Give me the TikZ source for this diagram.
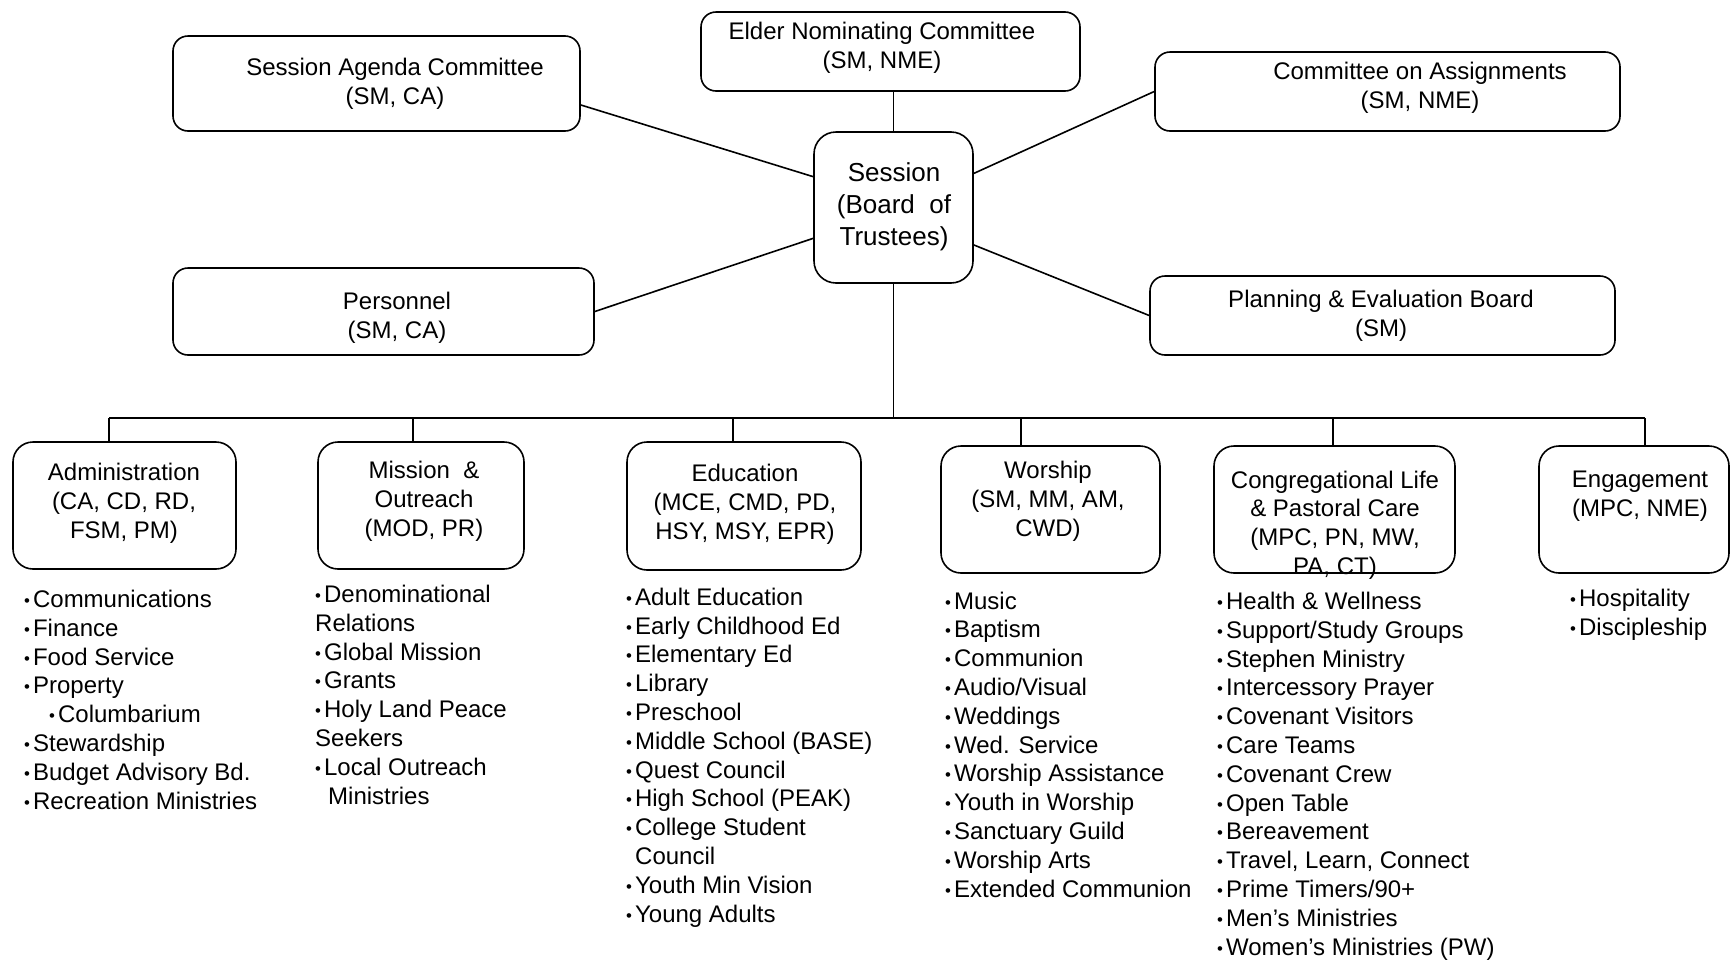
\documentclass[tikz,border=0pt]{standalone}
\usepackage{fontspec}
\setmainfont{Liberation Sans}
\usepackage{graphicx}

\newcommand{\bul}{\raisebox{1pt}{\scalebox{0.7}{•}}\kern3pt}

\begin{document}
\begin{tikzpicture}[x=1pt, y=-1pt,
topbox/.style={draw, rectangle, rounded corners=15pt, line width=1.6pt},
lowbox/.style={draw, rectangle, rounded corners=20pt, line width=1.6pt},
boxtext/.style={align=center, inner sep=0pt, font=\fontsize{24}{28.8}\selectfont},
itemlist/.style={align=left, inner sep=0pt, anchor=base west, font=\fontsize{24}{28.8}\selectfont},
link/.style={line width=1.6pt},
]
\useasboundingbox (0,0) rectangle (1731,959);

%Upper boxes
\node[topbox, minimum width=407pt, minimum height=95pt]  (agenda)    at (376.5,83.5)   {};
\node[topbox, minimum width=379pt, minimum height=79pt]  (elder)     at (890.5,51.5)   {};
\node[topbox, minimum width=465pt, minimum height=79pt]  (assign)    at (1387.5,91.5)  {};
\node[topbox, minimum width=159pt, minimum height=151pt, rounded corners=22pt] (session) at (893.5,207.5) {};
\node[topbox, minimum width=421pt, minimum height=87pt]  (personnel) at (383.5,311.5)  {};
\node[topbox, minimum width=465pt, minimum height=79pt]  (planning)  at (1382.5,315.5) {};

\node[boxtext] (agendatxt)    at (395,84)   {Session Agenda Committee\\(SM, CA)};
\node[boxtext] (eldertxt)     at (882,48)   {Elder Nominating Committee\\(SM, NME)};
\node[boxtext] (assigntxt)    at (1420,88)  {Committee on Assignments\\(SM, NME)};
\node[boxtext, font=\fontsize{26}{32}\selectfont] (sessiontxt) at (894,207) {Session\\(Board\ \ of\\Trustees)};
\node[boxtext] (personneltxt) at (397,318)  {Personnel\\(SM, CA)};
\node[boxtext] (planningtxt)  at (1381,316) {Planning \& Evaluation Board\\(SM)};

%Lower boxes
\node[lowbox, minimum width=223pt, minimum height=127pt] (admin)   at (124.5,505.5)  {};
\node[lowbox, minimum width=206pt, minimum height=127pt] (mission) at (421,505.5)    {};
\node[lowbox, minimum width=234pt, minimum height=128pt] (edu)     at (744,506)      {};
\node[lowbox, minimum width=219pt, minimum height=127pt] (worship) at (1050.5,509.5) {};
\node[lowbox, minimum width=241pt, minimum height=127pt] (cong)    at (1334.5,509.5) {};
\node[lowbox, minimum width=190pt, minimum height=127pt] (engage)  at (1634,509.5)   {};

\node[boxtext] (admintxt)   at (124,503)  {Administration\\(CA, CD, RD,\\FSM, PM)};
\node[boxtext] (missiontxt) at (424,501)  {Mission\ \ \&\\Outreach\\(MOD, PR)};
\node[boxtext] (edutxt)     at (745,504)  {Education\\(MCE, CMD, PD,\\HSY, MSY, EPR)};
\node[boxtext] (worshiptxt) at (1048,501) {Worship\\(SM, MM, AM,\\CWD)};
\node[boxtext] (congtxt)    at (1335,525) {Congregational Life\\\& Pastoral Care\\(MPC, PN, MW,\\PA, CT)};
\node[boxtext] (engagetxt)  at (1640,496) {Engagement\\(MPC, NME)};

%Lists (anchored at the baseline of their last line)
\node[itemlist] (adminlist) at (24,809) {\bul Communications\\\bul Finance\\\bul Food Service\\\bul Property\\\hspace*{25pt}\bul Columbarium\\\bul Stewardship\\\bul Budget Advisory Bd.\\\bul Recreation Ministries};
\node[itemlist] (missionlist) at (315,804) {\bul Denominational\\Relations\\\bul Global Mission\\\bul Grants\\\bul Holy Land Peace\\Seekers\\\bul Local Outreach\\\hspace*{13pt}Ministries};
\node[itemlist] (edulist) at (626,922) {\bul Adult Education\\\bul Early Childhood Ed\\\bul Elementary Ed\\\bul Library\\\bul Preschool\\\bul Middle School (BASE)\\\bul Quest Council\\\bul High School (PEAK)\\\bul College Student\\\hspace*{9pt}Council\\\bul Youth Min Vision\\\bul Young Adults};
\node[itemlist] (worshiplist) at (945,897) {\bul Music\\\bul Baptism\\\bul Communion\\\bul Audio/Visual\\\bul Weddings\\\bul Wed. Service\\\bul Worship Assistance\\\bul Youth in Worship\\\bul Sanctuary Guild\\\bul Worship Arts\\\bul Extended Communion};
\node[itemlist] (conglist) at (1217,955) {\bul Health \& Wellness\\\bul Support/Study Groups\\\bul Stephen Ministry\\\bul Intercessory Prayer\\\bul Covenant Visitors\\\bul Care Teams\\\bul Covenant Crew\\\bul Open Table\\\bul Bereavement\\\bul Travel, Learn, Connect\\\bul Prime Timers/90+\\\bul Men’s Ministries\\\bul Women’s Ministries (PW)};
\node[itemlist] (engagelist) at (1570,635) {\bul Hospitality\\\bul Discipleship};

%Lines
\draw[link] (agenda.-6) -- (session.159);
\draw[link] (session.north) -- (session.north |- elder.south);
\draw[link] (assign.west) -- (session.23);
\draw[link] (personnel.east) -- (session.201);
\draw[link] (planning.west) -- (session.-25);

\coordinate (hub) at (893.5,418);
\draw[link] (session.south) -- (hub);
\draw[link] (109,418) -- (1645,418);
\foreach \b/\x in {admin/109, mission/413, edu/733, worship/1021, cong/1333, engage/1645} {
  \coordinate (tap\b) at (\x,418);
  \draw[link] (tap\b) -- (tap\b |- \b.north);
}
\end{tikzpicture}
\end{document}
